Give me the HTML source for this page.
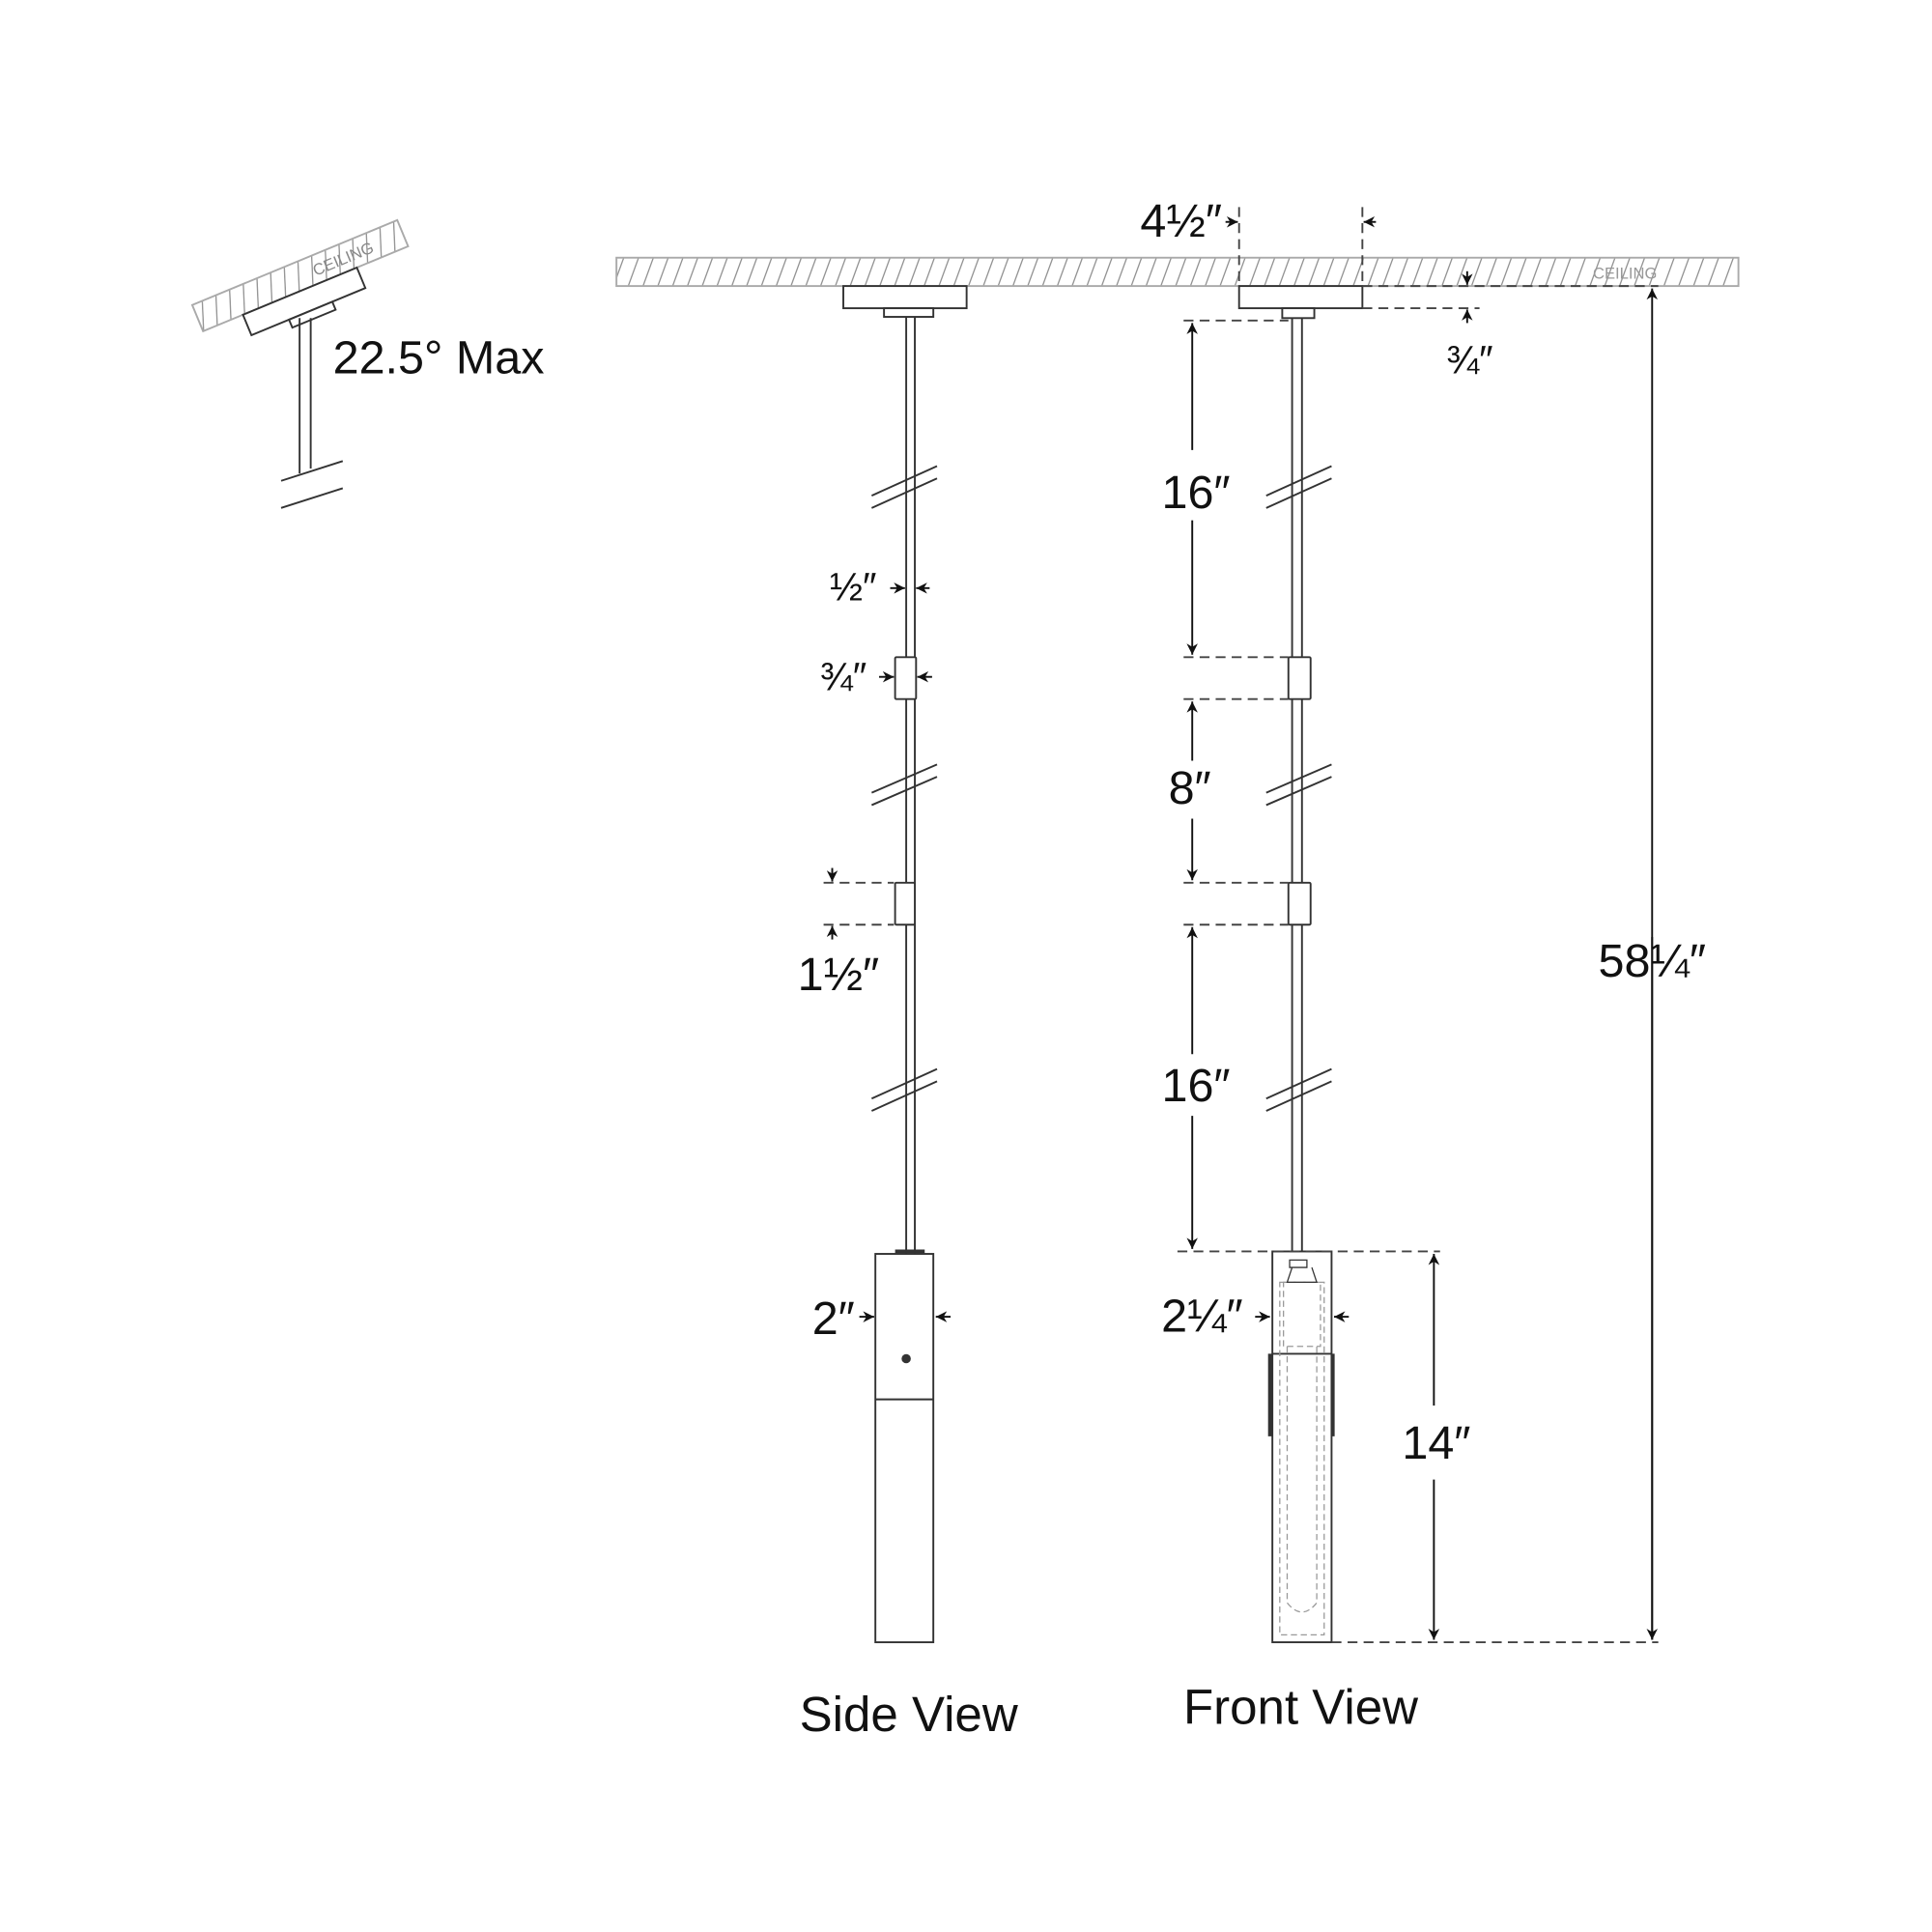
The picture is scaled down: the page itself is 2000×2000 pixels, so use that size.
<!DOCTYPE html>
<html><head><meta charset="utf-8"><style>
html,body{margin:0;padding:0;background:#fff;}
svg{display:block}
.d{font-family:"Liberation Sans Narrow","Liberation Sans",sans-serif;fill:#111;}
.l{font-family:"Liberation Sans",sans-serif;fill:#111;}
</style></head><body>
<svg width="2000" height="2000" viewBox="0 0 1567 1567" xmlns="http://www.w3.org/2000/svg">
<defs>
<pattern id="h" width="12" height="24" patternUnits="userSpaceOnUse" patternTransform="skewX(-20)">
<line x1="6" y1="0" x2="6" y2="24" stroke="#888" stroke-width="1"/>
</pattern>
<marker id="a" viewBox="0 0 10 10" refX="10" refY="5" markerWidth="9" markerHeight="9" orient="auto-start-reverse" markerUnits="userSpaceOnUse"><path d="M0,0 L10,5 L0,10 L3,5 Z" fill="#111"/></marker>
</defs>
<g stroke="#333" stroke-width="1.5" fill="none">
<rect x="500" y="209" width="910" height="23" fill="url(#h)" stroke="#aaa"/>
<rect x="684" y="232" width="100" height="18" fill="#fff"/>
<rect x="717" y="250" width="40" height="7" fill="#fff"/>
<line x1="735" y1="257" x2="735" y2="1017"/><line x1="742" y1="257" x2="742" y2="1017"/>
<rect x="726" y="533" width="17" height="34" fill="#fff" rx="1"/>
<rect x="726" y="716" width="16" height="34" fill="#fff" rx="1"/>
<rect x="710" y="1017" width="47" height="315" fill="#fff"/>
<line x1="710" y1="1135" x2="757" y2="1135"/>
<line x1="726" y1="1015" x2="750" y2="1015" stroke-width="3"/>
<circle cx="735" cy="1102" r="3" fill="#333"/>
<rect x="1005" y="232" width="100" height="18" fill="#fff"/>
<rect x="1040" y="250" width="26" height="8" fill="#fff"/>
<line x1="1048" y1="258" x2="1048" y2="1015"/><line x1="1056" y1="258" x2="1056" y2="1015"/>
<rect x="1045" y="533" width="18" height="34" fill="#fff" rx="1"/>
<rect x="1045" y="716" width="18" height="34" fill="#fff" rx="1"/>
<rect x="1032" y="1015" width="48" height="317" fill="#fff"/>
<line x1="1032" y1="1098" x2="1080" y2="1098"/>
<line x1="1030" y1="1098" x2="1030" y2="1165" stroke-width="3"/>
<line x1="1081" y1="1098" x2="1081" y2="1165" stroke-width="3"/>
<g stroke="#999" stroke-width="1" stroke-dasharray="5,3">
<rect x="1038" y="1040" width="36" height="286"/>
<rect x="1041" y="1040" width="30" height="52"/>
<path d="M1044,1092 V1300 Q1056,1315 1068,1300 V1092"/>
</g>
<path d="M1046,1022 h14 v6 h-14 z M1048,1028 l-4,12 h24 l-4,-12" stroke-width="1"/>
<g stroke="#333" stroke-width="1.5">
<path d="M707,402 L760,378 M707,412 L760,388"/>
<path d="M707,643 L760,620 M707,653 L760,630"/>
<path d="M707,891 L760,867 M707,901 L760,877"/>
<path d="M1027,402 L1080,378 M1027,412 L1080,388"/>
<path d="M1027,643 L1080,620 M1027,653 L1080,630"/>
<path d="M1027,891 L1080,867 M1027,901 L1080,877"/>
</g>
<g stroke="#444" stroke-dasharray="8,5">
<line x1="1005" y1="168" x2="1005" y2="232"/>
<line x1="1105" y1="168" x2="1105" y2="232"/>
<line x1="1105" y1="232" x2="1345" y2="232"/>
<line x1="1105" y1="250" x2="1200" y2="250"/>
<line x1="960" y1="260" x2="1045" y2="260"/>
<line x1="960" y1="533" x2="1045" y2="533"/>
<line x1="960" y1="567" x2="1045" y2="567"/>
<line x1="960" y1="716" x2="1045" y2="716"/>
<line x1="960" y1="750" x2="1045" y2="750"/>
<line x1="955" y1="1015" x2="1168" y2="1015"/>
<line x1="1080" y1="1332" x2="1345" y2="1332"/>
<line x1="668" y1="716" x2="725" y2="716"/>
<line x1="668" y1="750" x2="725" y2="750"/>
</g>
<g stroke="#111" stroke-width="1.5">
<line x1="967" y1="365" x2="967" y2="262" marker-end="url(#a)"/>
<line x1="967" y1="422" x2="967" y2="531" marker-end="url(#a)"/>
<line x1="967" y1="617" x2="967" y2="569" marker-end="url(#a)"/>
<line x1="967" y1="664" x2="967" y2="714" marker-end="url(#a)"/>
<line x1="967" y1="855" x2="967" y2="752" marker-end="url(#a)"/>
<line x1="967" y1="905" x2="967" y2="1013" marker-end="url(#a)"/>
<line x1="1163" y1="1140" x2="1163" y2="1017" marker-end="url(#a)"/>
<line x1="1163" y1="1200" x2="1163" y2="1330" marker-end="url(#a)"/>
<line x1="1340" y1="1330" x2="1340" y2="234" marker-end="url(#a)"/>
<line x1="1340" y1="760" x2="1340" y2="1330" marker-end="url(#a)"/>
<line x1="994" y1="180" x2="1004" y2="180" marker-end="url(#a)"/>
<line x1="1116" y1="180" x2="1106" y2="180" marker-end="url(#a)"/>
<line x1="1190" y1="220" x2="1190" y2="231" marker-end="url(#a)"/>
<line x1="1190" y1="262" x2="1190" y2="251" marker-end="url(#a)"/>
<line x1="722" y1="477" x2="734" y2="477" marker-end="url(#a)"/>
<line x1="754" y1="477" x2="743" y2="477" marker-end="url(#a)"/>
<line x1="713" y1="549" x2="725" y2="549" marker-end="url(#a)"/>
<line x1="756" y1="549" x2="744" y2="549" marker-end="url(#a)"/>
<line x1="675" y1="704" x2="675" y2="715" marker-end="url(#a)"/>
<line x1="675" y1="762" x2="675" y2="751" marker-end="url(#a)"/>
<line x1="697" y1="1068" x2="709" y2="1068" marker-end="url(#a)"/>
<line x1="771" y1="1068" x2="759" y2="1068" marker-end="url(#a)"/>
<line x1="1018" y1="1068" x2="1030" y2="1068" marker-end="url(#a)"/>
<line x1="1094" y1="1068" x2="1082" y2="1068" marker-end="url(#a)"/>
</g>
<g transform="rotate(-22.5 247 240)">
<rect x="160" y="212" width="180" height="23" stroke="#aaa" fill="url(#h)"/>
<rect x="195" y="235" width="100" height="18" fill="#fff"/>
<rect x="228" y="253" width="38" height="7" fill="#fff"/>
</g>
<line x1="243" y1="258" x2="243" y2="384"/><line x1="252" y1="258" x2="252" y2="380"/>
<path d="M228,390 L278,374 M228,412 L278,396"/>
</g>
<text x="1318" y="226" font-family="Liberation Sans,sans-serif" font-size="13" fill="#999" text-anchor="middle">CEILING</text>
<text transform="translate(280,214) rotate(-22.5)" font-family="Liberation Sans,sans-serif" font-size="13" fill="#888" text-anchor="middle">CEILING</text>
<text class="l" x="270" y="303" font-size="38">22.5° Max</text>
<g class="d" font-size="38">
<text x="958" y="192" text-anchor="middle">4½″</text>
<text x="1192" y="303" text-anchor="middle" font-size="32">¾″</text>
<text x="970" y="412" text-anchor="middle">16″</text>
<text x="965" y="652" text-anchor="middle">8″</text>
<text x="970" y="893" text-anchor="middle">16″</text>
<text x="1165" y="1183" text-anchor="middle">14″</text>
<text x="1340" y="792" text-anchor="middle">58¼″</text>
<text x="975" y="1080" text-anchor="middle">2¼″</text>
<text x="676" y="1082" text-anchor="middle">2″</text>
<text x="692" y="487" text-anchor="middle" font-size="32">½″</text>
<text x="684" y="560" text-anchor="middle" font-size="32">¾″</text>
<text x="680" y="803" text-anchor="middle">1½″</text>
</g>
<text class="l" x="737" y="1404" font-size="40" text-anchor="middle">Side View</text>
<text class="l" x="1055" y="1398" font-size="40" text-anchor="middle">Front View</text>
</svg>
</body></html>
